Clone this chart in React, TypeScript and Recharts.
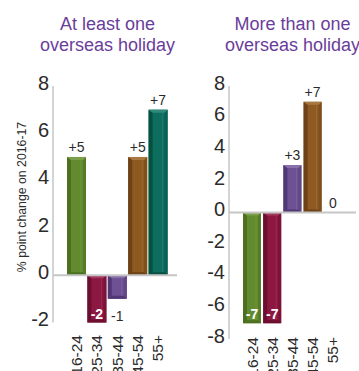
import React from "react";
import { Bar, BarChart, LabelList, ReferenceLine, XAxis, YAxis } from "recharts";

const FONT = '"Liberation Sans", Arial, sans-serif';
const TITLE_COLOR = "#6a3d9a";
const TEXT = "#2b2b2b";
const AXIS = "#c6c6c6";

const ageGroups = ["16-24", "25-34", "35-44", "45-54", "55+"];
const atLeastOne = [5, -2, -1, 5, 7];
const moreThanOne = [-7, -7, 3, 7, 0];
const leftTicks = [-2, 0, 2, 4, 6, 8];
const rightTicks = [-8, -6, -4, -2, 0, 2, 4, 6, 8];

// base / dark side / shaded side / light top per age group
const palette = [
  { base: "#628a2e", dark: "#4d6f20", side: "#577c28", light: "#7b9f4a" },
  { base: "#8c1842", dark: "#6c0e30", side: "#7d1239", light: "#a43a60" },
  { base: "#6d5193", dark: "#513874", side: "#614785", light: "#8870a8" },
  { base: "#8e5a22", dark: "#6c4216", side: "#7e4f1c", light: "#a87840" },
  { base: "#0d6d5f", dark: "#07503f", side: "#0a5f52", light: "#2f8a7c" },
];

const fmt = (v: number) => (v > 0 ? `+${v}` : `${v}`);

function BevelBar(props: any) {
  const { x, y, width: w, height, index } = props;
  const t = Math.min(y, y + height);
  const h = Math.abs(height);
  const c = palette[index % palette.length];
  if (!h) return null;
  const bl = 4, br = 3, bt = 3, bb = 3;
  if (h < bt + bb + 2) return <rect x={x} y={t} width={w} height={h} fill={c.base} />;
  const b = t + h;
  return (
    <g>
      <rect x={x} y={t} width={w} height={h} fill={c.base} />
      <polygon points={`${x},${t} ${x + bl},${t + bt} ${x + bl},${b - bb} ${x},${b}`} fill={c.dark} />
      <polygon points={`${x + w},${t} ${x + w - br},${t + bt} ${x + w - br},${b - bb} ${x + w},${b}`} fill={c.side} />
      <polygon points={`${x},${t} ${x + w},${t} ${x + w - br},${t + bt} ${x + bl},${t + bt}`} fill={c.light} />
      <polygon points={`${x},${b} ${x + w},${b} ${x + w - br},${b - bb} ${x + bl},${b - bb}`} fill={c.dark} />
      <line x1={x + w - br - 2} x2={x + w - br - 2} y1={t + bt} y2={b - bb} stroke={c.light} strokeOpacity={0.5} />
    </g>
  );
}

function ValueLabel(props: any) {
  const { x, y, width, height, value } = props;
  const v = Number(value);
  const t = Math.min(y, y + height);
  const h = Math.abs(height);
  const cx = x + width / 2;
  if (v >= 0) {
    return (
      <text x={cx} y={t - 5} textAnchor="middle" fontFamily={FONT} fontSize={14} fill={TEXT}>
        {fmt(v)}
      </text>
    );
  }
  const inside = h >= 30;
  return (
    <text
      x={cx}
      y={inside ? t + h - 4 : t + h + 22}
      textAnchor="middle"
      fontFamily={FONT}
      fontSize={14}
      fontWeight={inside ? "bold" : "normal"}
      fill={inside ? "#ffffff" : TEXT}
    >
      {fmt(v)}
    </text>
  );
}

function ValueTick(props: any) {
  const { x, y, payload } = props;
  return (
    <text x={x} y={y + 3.7} textAnchor="end" fontFamily={FONT} fontSize={20} fill={TEXT}>
      {payload.value}
    </text>
  );
}

function makeAgeTick(offset: number) {
  return function AgeTick(props: any) {
    const { x, y, payload } = props;
    const ty = y + offset;
    return (
      <text
        x={x}
        y={ty}
        dy="0.36em"
        transform={`rotate(-90 ${x} ${ty})`}
        textAnchor="end"
        fontFamily={FONT}
        fontSize={15.5}
        fill={TEXT}
      >
        {payload.value}
      </text>
    );
  };
}

function Panel(props: {
  title: string[];
  titleCenter: number;
  values: number[];
  ticks: number[];
  domain: [number, number];
  width: number;
  height: number;
  left: number;
  axisWidth: number;
  margin: { top: number; right: number; left: number; bottom: number };
  xHeight: number;
  pad: { left: number; right: number };
  barSize: number;
  labelOffset: number;
  yLabel?: string;
}) {
  const data = ageGroups.map((g, i) => ({ group: g, value: props.values[i] }));
  return (
    <div style={{ position: "absolute", left: props.left, top: 0, width: props.width, height: props.height }}>
      <BarChart width={props.width} height={props.height} data={data} margin={props.margin}>
        <XAxis
          dataKey="group"
          axisLine={false}
          tickLine={false}
          tickSize={0}
          tickMargin={0}
          height={props.xHeight}
          padding={props.pad}
          interval={0}
          tick={makeAgeTick(props.labelOffset)}
        />
        <YAxis
          type="number"
          domain={props.domain}
          ticks={props.ticks}
          width={props.axisWidth}
          axisLine={{ stroke: AXIS, strokeWidth: 1.5 }}
          tickLine={false}
          tickSize={0}
          tickMargin={4}
          interval={0}
          tick={<ValueTick />}
        />
        <ReferenceLine y={0} stroke={AXIS} strokeWidth={2} />
        <Bar dataKey="value" barSize={props.barSize} shape={<BevelBar />} isAnimationActive={false}>
          <LabelList dataKey="value" content={<ValueLabel />} />
        </Bar>
      </BarChart>
      <svg
        width={props.width}
        height={props.height}
        style={{ position: "absolute", left: 0, top: 0, pointerEvents: "none" }}
      >
        {props.title.map((line, i) => (
          <text
            key={line}
            x={props.titleCenter}
            y={30 + i * 21}
            textAnchor="middle"
            fontFamily={FONT}
            fontSize={18}
            fill={TITLE_COLOR}
          >
            {line}
          </text>
        ))}
        {props.yLabel && (
          <text
            x={22}
            y={197}
            dy="0.35em"
            transform="rotate(-90 22 197)"
            textAnchor="middle"
            fontFamily={FONT}
            fontSize={12.3}
            fill={TEXT}
          >
            {props.yLabel}
          </text>
        )}
      </svg>
    </div>
  );
}

export default function App() {
  return (
    <div style={{ position: "fixed", left: 0, top: 0, width: 359, height: 371, background: "#fff", overflow: "hidden" }}>
      <Panel
        title={["At least one", "overseas holiday"]}
        titleCenter={107.5}
        values={atLeastOne}
        ticks={leftTicks}
        domain={[-2, 8]}
        left={0}
        width={180}
        height={371}
        axisWidth={53}
        margin={{ top: 86, right: 3, left: 0, bottom: 0 }}
        xHeight={48.5}
        pad={{ left: 13, right: 9 }}
        barSize={19}
        labelOffset={12.5}
        yLabel="% point change on 2016-17"
      />
      <Panel
        title={["More than one", "overseas holiday"]}
        titleCenter={112.5}
        values={moreThanOne}
        ticks={rightTicks}
        domain={[-8, 8]}
        left={180}
        width={179}
        height={371}
        axisWidth={49}
        margin={{ top: 86, right: 3, left: 0, bottom: 0 }}
        xHeight={32}
        pad={{ left: 13, right: 13 }}
        barSize={18}
        labelOffset={-2}
      />
    </div>
  );
}
